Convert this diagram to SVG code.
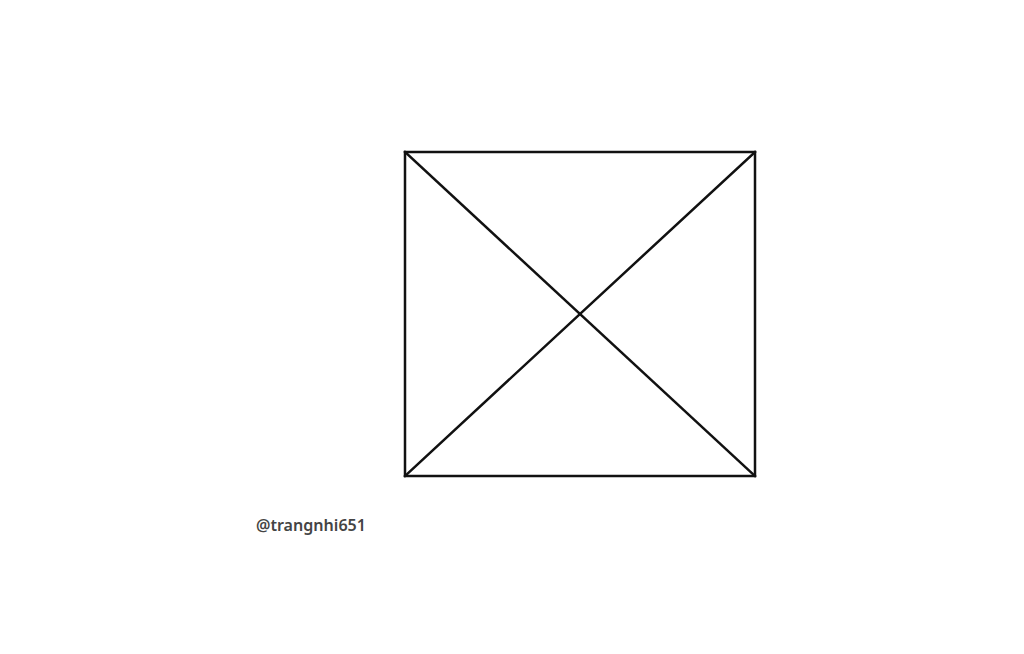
<svg xmlns="http://www.w3.org/2000/svg" width="1024" height="654" viewBox="0 0 1024 654">
<style>
.ln{stroke:#111;stroke-width:2.5;fill:none;stroke-linecap:square}
.cap{font-family:"Noto Sans","DejaVu Sans",sans-serif;font-size:16px;font-weight:600;fill:#444}
</style>
<rect width="1024" height="654" fill="#fff"/>
<g id="square">
<rect class="ln" x="405" y="152" width="350" height="324"/>
</g>
<g id="connectors">
<line class="ln" x1="405" y1="152" x2="755" y2="476"/>
<line class="ln" x1="755" y1="152" x2="405" y2="476"/>
</g>
<text class="cap" x="256" y="531" textLength="110" lengthAdjust="spacingAndGlyphs">@trangnhi651</text>
</svg>
